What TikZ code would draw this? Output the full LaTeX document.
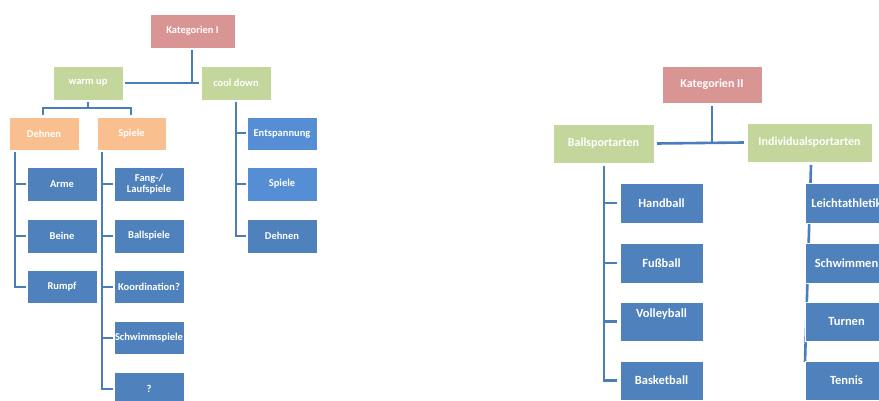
\documentclass[tikz,border=0pt]{standalone}
\usepackage{fontspec}
\setmainfont{Carlito}
\definecolor{pinkbox}{HTML}{D99594}
\definecolor{greenbox}{HTML}{C3D69B}
\definecolor{orangebox}{HTML}{FABF8F}
\definecolor{bluebox}{HTML}{4F81BD}
\definecolor{lightblue}{HTML}{558ED5}
\definecolor{linecol}{HTML}{4A7EBB}
\begin{document}
\begin{tikzpicture}[x=1pt,y=-1pt,
  box/.style={draw=white, line width=0.4pt, text=white, inner sep=1pt, align=center, font=\fontsize{10.5}{11}\selectfont\bfseries},
  lpink/.style={box, fill=pinkbox},
  lgreen/.style={box, fill=greenbox},
  lorange/.style={box, fill=orangebox},
  lblue/.style={box, fill=bluebox},
  llblue/.style={box, fill=lightblue},
  rhead/.style={box, font=\fontsize{12}{13}\selectfont\bfseries},
  rblue/.style={box, fill=bluebox, minimum width=83pt, font=\fontsize{12.5}{14}\selectfont\bfseries},
  conn/.style={draw=linecol, line width=2pt},
  rconn/.style={draw=linecol, line width=2.6pt}
]
\useasboundingbox (0,0) rectangle (879,401);

% ---------- Left tree ----------
\node[lpink, minimum width=85pt, minimum height=34pt] (kat1) at (192.5,31) {Kategorien I};
\node[lgreen, minimum width=70pt, minimum height=34pt] (warm) at (88,83) {warm up};
\node[lgreen, minimum width=70pt, minimum height=34pt] (cool) at (236,83) {cool down};
\node[lorange, minimum width=70pt, minimum height=33pt] (dehn) at (44,133.5) {Dehnen};
\node[lorange, minimum width=69pt, minimum height=33pt] (spiele) at (131.5,133.5) {Spiele};

\node[lblue, minimum width=70pt, minimum height=34pt] (arme) at (62,184) {Arme};
\node[lblue, minimum width=70pt, minimum height=34pt] (beine) at (62,236) {Beine};
\node[lblue, minimum width=70pt, minimum height=33pt] (rumpf) at (62,286.5) {Rumpf};

\node[lblue, minimum width=70pt, minimum height=34pt] (fang) at (149,184) {Fang-/\\Laufspiele};
\node[lblue, minimum width=70pt, minimum height=34pt] (ballsp) at (149,236) {Ballspiele};
\node[lblue, minimum width=70pt, minimum height=33pt] (koord) at (149,286.5) {Koordination?};
\node[lblue, minimum width=70pt, minimum height=33pt] (schwsp) at (149,337.5) {Schwimmspiele};
\node[lblue, minimum width=70pt, minimum height=34pt] (quest) at (149,389) {?};

\node[llblue, minimum width=70pt, minimum height=33pt] (entsp) at (282,133.5) {Entspannung};
\node[llblue, minimum width=70pt, minimum height=34pt] (spiele2) at (282,184) {Spiele};
\node[lblue, minimum width=70pt, minimum height=34pt] (dehn2) at (282,236) {Dehnen};

% connectors left
\coordinate (kj) at (192,82);
\draw[conn] ([yshift=-2pt]kat1.south -| kj) -- (kj);
\draw[conn] ([xshift=2pt]warm.east) -- ([xshift=-2pt]cool.west);
\coordinate (wj) at (88,108);
\draw[conn] ([yshift=-2pt]warm.south) -- (wj);
\draw[conn] ([yshift=2pt]dehn.north -| 43,0) |- (wj) -| ([yshift=2pt]spiele.north -| 131,0);

\coordinate (dv) at (15,152);
\draw[conn] (dv) |- ([xshift=-1pt]rumpf.west);
\draw[conn] (dv |- arme.west) -- ([xshift=-1pt]arme.west);
\draw[conn] (dv |- beine.west) -- ([xshift=-1pt]beine.west);

\coordinate (sv) at (102,152);
\draw[conn] (sv) |- ([xshift=-1pt]quest.west);
\draw[conn] (sv |- fang.west) -- ([xshift=-1pt]fang.west);
\draw[conn] (sv |- ballsp.west) -- ([xshift=-1pt]ballsp.west);
\draw[conn] (sv |- koord.west) -- ([xshift=-1pt]koord.west);
\draw[conn] (sv |- schwsp.west) -- ([xshift=-1pt]schwsp.west);

\coordinate (cv) at (236,102);
\draw[conn] (cv) |- ([xshift=-1pt]dehn2.west);
\draw[conn] (cv |- entsp.west) -- ([xshift=-1pt]entsp.west);
\draw[conn] (cv |- spiele2.west) -- ([xshift=-1pt]spiele2.west);

% ---------- Right tree ----------
\coordinate (it) at (811,165);
\coordinate (ib) at (805,362);
\draw[rconn] (it) -- (ib);

\node[rhead, fill=pinkbox, minimum width=100pt, minimum height=37pt] (kat2) at (712,84.5) {Kategorien II};
\node[rhead, fill=greenbox, minimum width=101pt, minimum height=39pt] (balls) at (603.5,143.5) {Ballsportarten};
\node[rhead, fill=greenbox, minimum width=125pt, minimum height=39pt] (indiv) at (809.5,142.5) {Individualsportarten};

\node[rblue, minimum height=40pt] (hand) at (661.5,203) {Handball};
\node[rblue, minimum height=40pt] (fuss) at (661.5,263) {Fußball};
\node[rblue, minimum height=39pt] (volley) at (661.5,321.5) {\raisebox{4pt}[0pt][0pt]{Volleyball}};
\node[rblue, minimum height=39pt] (basket) at (661.5,380.5) {Basketball};

\node[rblue, minimum height=40pt] (leicht) at (846.5,203) {Leichtathletik};
\node[rblue, minimum height=40pt] (schwim) at (846.5,263) {Schwimmen};
\node[rblue, minimum height=39pt] (turnen) at (846.5,321.5) {Turnen};
\node[rblue, minimum height=39pt] (tennis) at (846.5,380.5) {Tennis};

\coordinate (kj2) at (712,143);
\draw[rconn] ([yshift=-3pt]kat2.south) -- (kj2);
\draw[rconn] ([xshift=3pt]balls.east) -- ([xshift=-3pt]indiv.west);

\coordinate (bv) at (604,166);
\draw[rconn] (bv) |- ([xshift=-3pt]basket.west);
\draw[rconn] (bv |- hand.west) -- ([xshift=-3pt]hand.west);
\draw[rconn] (bv |- fuss.west) -- ([xshift=-3pt]fuss.west);
\draw[rconn] (bv |- volley.west) -- ([xshift=-3pt]volley.west);
\end{tikzpicture}
\end{document}
